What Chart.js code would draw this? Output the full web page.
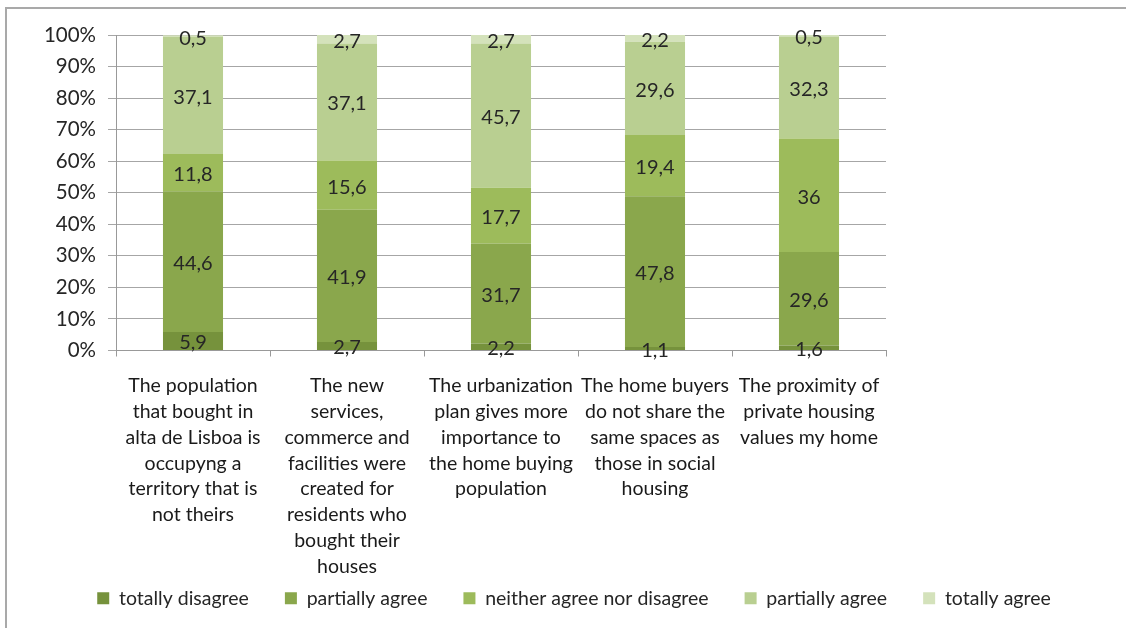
<!DOCTYPE html>
<html>
<head>
<meta charset="utf-8">
<script src="https://cdn.jsdelivr.net/npm/chart.js@4"></script>
<style>
  body { margin: 0; background: #fff; }
  #frame { position: absolute; left: 5px; top: 7px; width: 1121px; height: 621px;
           border-top: 2px solid #a9a9a9; border-left: 2px solid #a9a9a9; pointer-events: none; }
  canvas { position: absolute; left: 0; top: 0; }
</style>
</head>
<body>
<canvas id="chart" width="1126" height="628"></canvas>
<div id="frame"></div>
<script>
const categories = [
  ['The population', 'that bought in', 'alta de Lisboa is', 'occupyng a', 'territory that is', 'not theirs'],
  ['The new', 'services,', 'commerce and', 'facilities were', 'created for', 'residents who', 'bought their', 'houses'],
  ['The urbanization', 'plan gives more', 'importance to', 'the home buying', 'population'],
  ['The home buyers', 'do not share the', 'same spaces as', 'those in social', 'housing'],
  ['The proximity of', 'private housing', 'values my home']
];
const totallyDisagree = [5.9, 2.7, 2.2, 1.1, 1.6];
const partiallyAgreeA = [44.6, 41.9, 31.7, 47.8, 29.6];
const neitherAgree = [11.8, 15.6, 17.7, 19.4, 36];
const partiallyAgreeB = [37.1, 37.1, 45.7, 29.6, 32.3];
const totallyAgree = [0.5, 2.7, 2.7, 2.2, 0.5];
const seriesNames = ['totally disagree', 'partially agree', 'neither agree nor disagree', 'partially agree', 'totally agree'];
const seriesColors = ['#76923c', '#8aa74c', '#9dbb5b', '#b9cf91', '#d4e2bb'];
const yTicks = [0, 10, 20, 30, 40, 50, 60, 70, 80, 90, 100];

const FONT = 'Lato, "Open Sans", sans-serif';

// writes each segment's value in the middle of it, decimal comma
const segmentLabels = {
  id: 'segmentLabels',
  afterDatasetsDraw(chart) {
    const ctx = chart.ctx;
    ctx.save();
    ctx.font = '20px ' + FONT;
    ctx.fillStyle = '#262626';
    ctx.textAlign = 'center';
    ctx.textBaseline = 'middle';
    chart.data.datasets.forEach((ds, i) => {
      chart.getDatasetMeta(i).data.forEach((bar, j) => {
        const txt = String(ds.data[j]).replace('.', ',');
        ctx.fillText(txt, bar.x, (bar.y + bar.base) / 2 + 2);
      });
    });
    ctx.restore();
  }
};

// the tall category labels need the room, so lift the legend up a bit
const liftLegend = {
  id: 'liftLegend',
  afterLayout(chart) {
    const lg = chart.legend;
    if (lg) { lg.top -= 24; lg.bottom -= 24; }
  }
};

const values = [totallyDisagree, partiallyAgreeA, neitherAgree, partiallyAgreeB, totallyAgree];

new Chart(document.getElementById('chart'), {
  type: 'bar',
  data: {
    labels: categories,
    datasets: values.map((d, i) => ({
      label: seriesNames[i],
      data: d,
      backgroundColor: seriesColors[i],
      barPercentage: 0.39,
      categoryPercentage: 1
    }))
  },
  options: {
    responsive: false,
    animation: false,
    layout: { padding: { left: 22, right: 0, top: 35, bottom: -14 } },
    plugins: {
      tooltip: { enabled: false },
      legend: {
        position: 'bottom',
        labels: {
          font: { family: FONT, size: 19.5 },
          color: '#262626',
          boxWidth: 12,
          boxHeight: 12,
          padding: 36
        }
      }
    },
    scales: {
      x: {
        stacked: true,
        grid: { drawOnChartArea: false, drawTicks: true, tickLength: 6, offset: true, color: '#999' },
        border: { color: '#999' },
        ticks: {
          autoSkip: false, maxRotation: 0, minRotation: 0,
          padding: 16,
          color: '#1a1a1a',
          font: { family: FONT, size: 19.5, lineHeight: 1.33 }
        },
        afterFit(scale) { scale.height = 226; }
      },
      y: {
        stacked: true,
        min: 0,
        max: 100,
        afterBuildTicks(scale) { scale.ticks = yTicks.map(v => ({ value: v })); },
        grid: { color: '#a6a6a6', tickLength: 8 },
        border: { color: '#999' },
        ticks: {
          padding: 12,
          color: '#262626',
          font: { family: FONT, size: 20.5 },
          callback: v => v + '%'
        },
        afterFit(scale) { scale.width = 94; }
      },
      pad: {
        position: 'right',
        display: true,
        grid: { display: false },
        border: { display: false },
        ticks: { display: false },
        afterFit(scale) { scale.width = 240; }
      }
    }
  },
  plugins: [segmentLabels, liftLegend]
});
</script>
</body>
</html>
